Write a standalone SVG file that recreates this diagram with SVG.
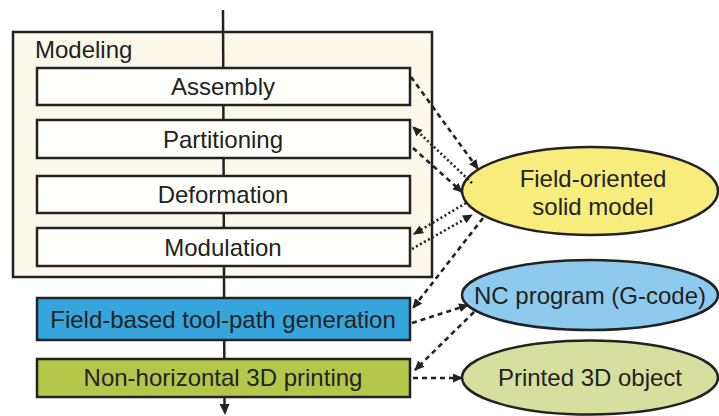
<svg xmlns="http://www.w3.org/2000/svg" width="719" height="416" viewBox="0 0 719 416">
<style>
text{font-family:"Liberation Sans",Arial,sans-serif;font-size:24px;fill:#222;}
.c{text-anchor:middle;}
.box{stroke:#222;stroke-width:2.5;}
.dash{fill:none;stroke:#222;stroke-width:2.6;stroke-dasharray:5 4;marker-end:url(#ah);}
.dot{fill:none;stroke:#222;stroke-width:2.6;stroke-dasharray:2 2.6;marker-end:url(#ah);}
</style>
<defs>
<marker id="ah" markerUnits="userSpaceOnUse" markerWidth="10" markerHeight="9" refX="9" refY="4.5" orient="auto">
<path d="M0,0 L10,4.5 L0,9 Z" fill="#222"/>
</marker>
</defs>
<rect width="719" height="416" fill="#ffffff"/>
<g id="modeling">
<rect class="box" x="13" y="32" width="419" height="245" fill="#fbf8ea"/>
<text x="35" y="58">Modeling</text>
</g>
<g id="flow">
<line x1="223" y1="10" x2="224.5" y2="406" stroke="#222" stroke-width="2.5"/>
<path d="M219.5,404 L229.5,404 L225,415 Z" fill="#222"/>
</g>
<g id="assembly">
<rect class="box" x="37" y="68" width="373" height="37" fill="#fffffc"/>
<text class="c" x="223" y="95">Assembly</text>
</g>
<g id="partitioning">
<rect class="box" x="37" y="120" width="373" height="38" fill="#fffffc"/>
<text class="c" x="223" y="148">Partitioning</text>
</g>
<g id="deformation">
<rect class="box" x="37" y="176" width="373" height="37" fill="#fffffc"/>
<text class="c" x="223" y="203">Deformation</text>
</g>
<g id="modulation">
<rect class="box" x="37" y="228" width="373" height="38" fill="#fffffc"/>
<text class="c" x="223" y="256">Modulation</text>
</g>
<g id="toolpath">
<rect class="box" x="37" y="298" width="373" height="42" fill="#36a5dd"/>
<text class="c" x="223" y="328">Field-based tool-path generation</text>
</g>
<g id="printing">
<rect class="box" x="37" y="359" width="373" height="38" fill="#b4c74b"/>
<text class="c" x="223" y="386">Non-horizontal 3D printing</text>
</g>
<g id="solidmodel">
<ellipse class="box" cx="590" cy="191" rx="128" ry="44" fill="#f8ec7c"/>
<text class="c" x="593" y="187">Field-oriented</text>
<text class="c" x="593" y="215">solid model</text>
</g>
<g id="ncprogram">
<ellipse class="box" cx="590" cy="295" rx="128" ry="35" fill="#8ecaee"/>
<text class="c" x="590" y="304">NC program (G-code)</text>
</g>
<g id="printed">
<ellipse class="box" cx="590" cy="377.5" rx="128" ry="37" fill="#d6df9d"/>
<text class="c" x="590" y="386">Printed 3D object</text>
</g>
<g id="connectors">
<path class="dash" d="M411,77 L478,169"/>
<path class="dot" d="M472,183 L413,127"/>
<path class="dash" d="M413,148 L462,192"/>
<path class="dot" d="M466,203 L414,234"/>
<path class="dot" d="M412,249 L472,215"/>
<path class="dash" d="M483,218 L413,308"/>
<path class="dash" d="M412,323 L468,305"/>
<path class="dash" d="M474,312 L415,370"/>
<path class="dash" d="M413,378 L462,378"/>
</g>
</svg>
